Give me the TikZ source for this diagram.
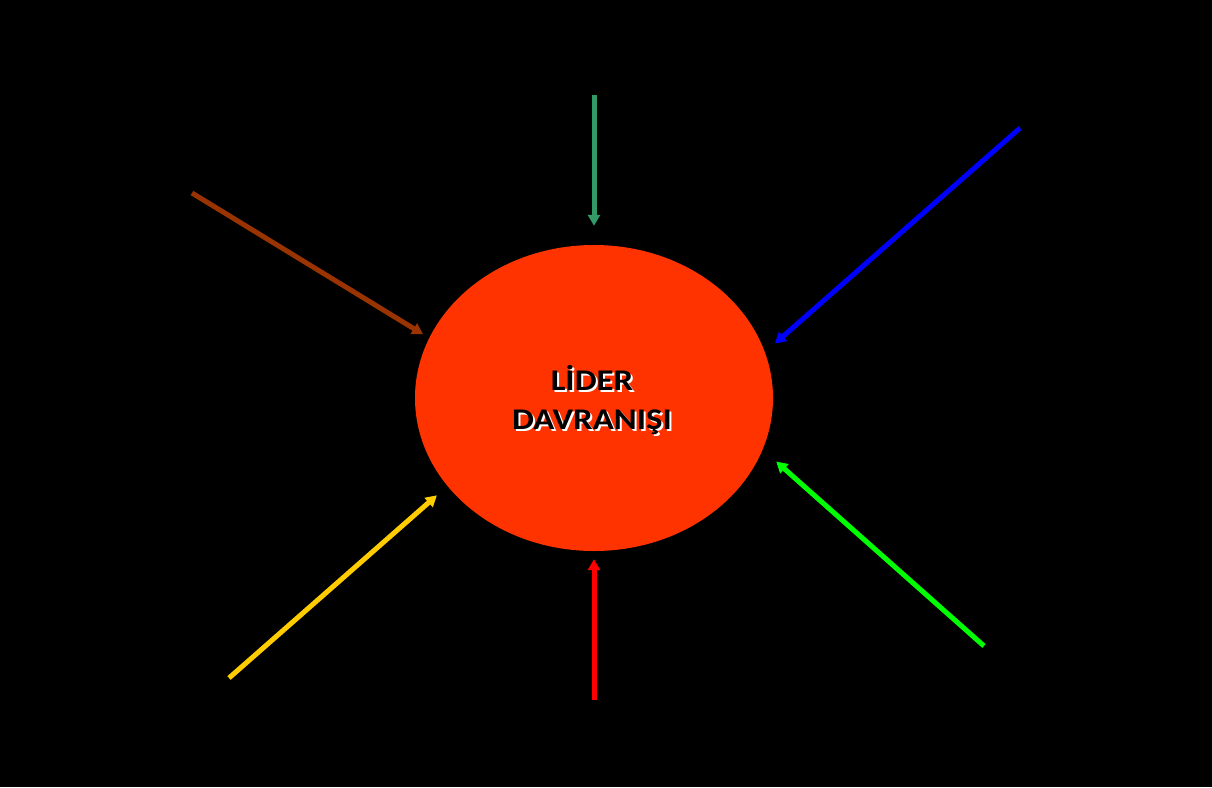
\documentclass[tikz,border=0pt]{standalone}
\usepackage{fontspec}
\setmainfont{Carlito}
\usepackage{xcolor}
\usetikzlibrary{arrows.meta, shapes.geometric}

\definecolor{lidred}{HTML}{FF3300}
\definecolor{sgreen}{HTML}{339966}
\definecolor{brownarr}{HTML}{993300}
\definecolor{yelarr}{HTML}{FFCC00}

\begin{document}
\begin{tikzpicture}[x=1pt, y=-1pt,
        center/.style={ellipse, fill=lidred, minimum width=358pt, minimum height=306pt, inner sep=0pt},
        txt/.style={font=\fontsize{30}{39}\selectfont\bfseries, align=center, inner sep=0pt, xscale=1.16},
        edge/.style={-{Triangle[length=11pt, width=12pt]}, line width=5pt}
    ]
    \fill[black] (0,0) rectangle (1212,787);
    \useasboundingbox (0,0) rectangle (1212,787);

    % 中心
    \node[center] (lider) at (594,398) {};
    \node[txt, text=white] (shadow) at (594,401.5) {LİDER\\DAVRANIŞI};
    \node[txt, text=black] (label) at (592,400) {LİDER\\DAVRANIŞI};

    % 起点
    \coordinate (top) at (594,95);
    \coordinate (bot) at (594,700);
    \coordinate (tl) at (192,193);
    \coordinate (tr) at (1020,128);
    \coordinate (bl) at (229,678);
    \coordinate (br) at (984,646);

    % 箭头
    \draw[edge, sgreen, shorten >=19pt] (top) -- (lider.north);
    \draw[edge, red, shorten >=8pt] (bot) -- (lider.south);
    \draw[edge, brownarr, shorten >=7pt] (tl) -- (lider.160);
    \draw[edge, blue, shorten >=13pt] (tr) -- (lider.15);
    \draw[edge, yelarr, shorten >=14pt] (bl) -- (lider.211);
    \draw[edge, green, shorten >=18pt] (br) -- (lider.-17);

\end{tikzpicture}
\end{document}
